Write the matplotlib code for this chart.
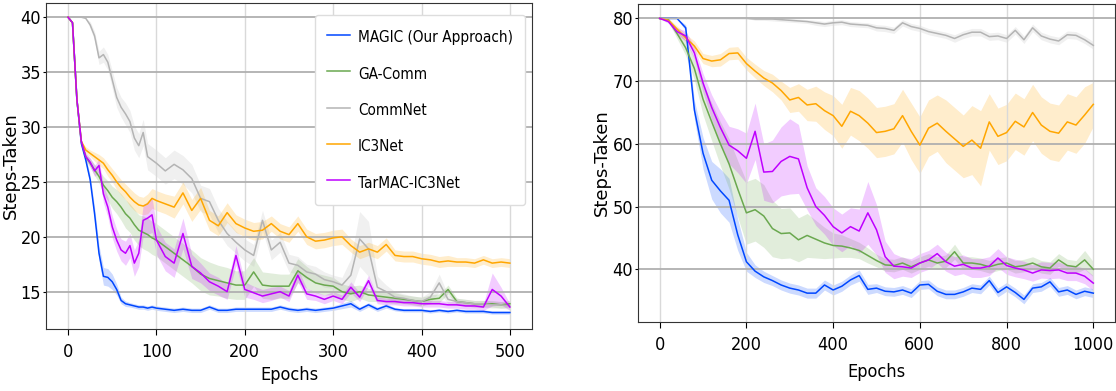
import numpy as np
import matplotlib
matplotlib.use("Agg")
import matplotlib.pyplot as plt
from matplotlib import font_manager

# ---- left panel: 500 epochs ----
epochs_a = [0, 5, 10, 15, 20, 25, 30, 35, 40, 45, 50, 55, 60, 65, 70, 75, 80, 85, 90, 95,
            100, 110, 120, 130, 140, 150, 160, 170, 180, 190, 200, 210, 220, 230, 240,
            250, 260, 270, 280, 290, 300, 310, 320, 330, 340, 350, 360, 370, 380, 390,
            400, 410, 420, 430, 440, 450, 460, 470, 480, 490, 500]

magic_a = [40, 39.5, 32.5, 28.5, 27.0, 25.2, 22.1, 18.5, 16.4, 16.3, 15.9, 15.2, 14.2, 13.9,
           13.8, 13.7, 13.6, 13.6, 13.5, 13.6, 13.5, 13.4, 13.3, 13.4, 13.3, 13.3, 13.6, 13.3,
           13.3, 13.4, 13.4, 13.4, 13.4, 13.4, 13.6, 13.4, 13.3, 13.4, 13.3, 13.4, 13.5, 13.7,
           13.9, 13.4, 13.8, 13.4, 13.7, 13.4, 13.3, 13.3, 13.3, 13.2, 13.3, 13.2, 13.3, 13.2,
           13.2, 13.2, 13.1, 13.1, 13.1]
gacomm_a = [40, 39.5, 32.5, 28.7, 27.3, 26.7, 26.1, 25.5, 24.7, 24.2, 23.6, 23.2, 22.7, 22.1,
            21.7, 21.1, 20.6, 20.4, 20.2, 19.9, 19.7, 19.1, 18.5, 17.9, 17.3, 16.6, 16.2, 16.0,
            15.8, 15.6, 15.6, 16.8, 15.6, 15.5, 15.5, 15.5, 16.9, 16.3, 15.8, 15.6, 15.5, 15.0,
            14.8, 15.0, 14.7, 14.6, 14.5, 14.4, 14.3, 14.2, 14.1, 14.3, 14.4, 15.2, 14.1, 14.0,
            13.9, 13.9, 13.9, 13.8, 13.9]
commnet_a = [40, 40, 40, 40, 39.9, 39.3, 38.3, 36.3, 36.6, 35.9, 34.3, 32.7, 31.8, 31.2,
             30.5, 29.0, 28.3, 29.5, 27.3, 27.0, 26.7, 26.0, 26.6, 26.1, 25.3, 23.5, 23.2, 21.5,
             20.3, 19.5, 18.8, 18.3, 21.5, 18.8, 19.5, 17.6, 17.4, 16.8, 16.6, 16.1, 15.9, 15.6,
             16.5, 19.8, 18.9, 15.4, 15.0, 14.5, 14.4, 14.2, 14.1, 14.5, 15.8, 14.3, 14.1, 14.0,
             13.9, 13.9, 13.8, 13.8, 13.7]
ic3net_a = [40, 39.5, 32.5, 28.7, 27.9, 27.6, 27.3, 27.0, 26.7, 26.1, 25.6, 25.0, 24.5, 24.1,
            23.6, 23.2, 22.9, 22.8, 23.0, 23.5, 23.3, 23.0, 22.7, 24.0, 22.4, 23.5, 21.5, 21.0,
            22.2, 21.2, 20.8, 20.5, 20.6, 21.2, 20.5, 20.2, 21.2, 20.0, 19.6, 19.7, 19.9, 20.0,
            19.2, 18.6, 18.9, 18.6, 19.3, 18.3, 18.2, 18.2, 18.0, 17.9, 17.7, 17.8, 17.7, 17.7,
            17.6, 17.9, 17.6, 17.7, 17.6]
tarmac_a = [40, 39.5, 32.5, 28.7, 27.3, 26.8, 26.0, 26.5, 23.9, 22.7, 20.9, 19.7, 18.8, 18.5,
            19.2, 17.6, 18.5, 21.5, 21.7, 22.0, 19.7, 18.2, 17.6, 20.3, 17.3, 16.7, 15.9, 15.5,
            15.0, 18.3, 15.2, 14.9, 14.6, 14.8, 15.0, 14.6, 16.5, 14.8, 14.6, 14.3, 14.6, 14.3,
            15.4, 14.5, 16.0, 14.2, 14.1, 14.1, 14.0, 14.0, 13.9, 13.9, 13.9, 13.8, 13.8, 13.7,
            13.7, 13.6, 15.2, 14.6, 13.6]

# band half widths, left panel
magic_a_sd = [0, 0, 0, 0, 0.3, 0.4, 0.6, 0.7, 0.8, 0.8, 0.7, 0.5, 0.3, 0.25, 0.2, 0.2, 0.2,
              0.2, 0.2, 0.2, 0.2, 0.2, 0.2, 0.2, 0.2, 0.2, 0.2, 0.2, 0.2, 0.2, 0.2, 0.2, 0.2,
              0.2, 0.2, 0.2, 0.2, 0.2, 0.2, 0.2, 0.2, 0.25, 0.3, 0.2, 0.2, 0.2, 0.2, 0.15, 0.15,
              0.15, 0.15, 0.15, 0.15, 0.15, 0.15, 0.15, 0.15, 0.15, 0.15, 0.15, 0.15]
gacomm_a_sd = [0, 0, 0, 0, 0.3, 0.4, 0.5, 0.6, 0.8, 0.9, 1.0, 1.1, 1.2, 1.3, 1.3, 1.4, 1.4,
               1.5, 1.5, 1.5, 1.5, 1.5, 1.5, 1.5, 1.5, 1.5, 1.5, 1.4, 1.4, 1.3, 1.3, 1.3, 1.2,
               1.2, 1.1, 1.1, 1.1, 1.0, 0.9, 0.9, 0.8, 0.7, 0.7, 0.6, 0.6, 0.5, 0.5, 0.5, 0.4,
               0.4, 0.4, 0.4, 0.4, 0.4, 0.3, 0.3, 0.3, 0.3, 0.3, 0.3, 0.3]
commnet_a_sd = [0, 0, 0, 0, 0, 0.3, 0.4, 0.6, 0.7, 0.7, 0.8, 0.9, 0.9, 1.0, 1.0, 1.1, 1.1,
                1.2, 1.2, 1.2, 1.2, 1.2, 1.3, 1.3, 1.3, 1.2, 1.2, 1.1, 1.1, 1.0, 1.0, 1.0, 0.9,
                0.9, 0.9, 0.8, 0.8, 0.7, 0.7, 0.7, 0.6, 0.7, 1.5, 2.5, 2.5, 1.0, 0.6, 0.5, 0.4,
                0.4, 0.4, 0.5, 0.8, 0.4, 0.3, 0.3, 0.3, 0.3, 0.3, 0.3, 0.3]
ic3net_a_sd = [0, 0, 0, 0, 0.3, 0.3, 0.4, 0.5, 0.5, 0.6, 0.6, 0.7, 0.7, 0.7, 0.8, 0.8, 0.8,
               0.8, 0.9, 0.9, 0.9, 0.9, 1.0, 1.0, 1.0, 1.0, 0.9, 0.9, 0.9, 0.8, 0.8, 0.8, 0.8,
               0.7, 0.7, 0.7, 0.7, 0.7, 0.7, 0.7, 0.7, 0.7, 0.6, 0.6, 0.6, 0.6, 0.6, 0.5, 0.5,
               0.5, 0.5, 0.5, 0.5, 0.5, 0.4, 0.4, 0.4, 0.4, 0.4, 0.4, 0.4]
tarmac_a_sd = [0, 0, 0, 0, 0.3, 0.4, 0.5, 0.6, 0.8, 0.9, 1.0, 1.0, 1.0, 1.1, 1.1, 1.2, 1.2,
               1.4, 1.5, 1.6, 1.3, 1.3, 1.3, 1.4, 1.1, 0.9, 0.8, 0.8, 0.7, 0.9, 0.7, 0.6, 0.6,
               0.6, 0.5, 0.5, 0.6, 0.5, 0.4, 0.4, 0.4, 0.4, 0.5, 0.4, 0.5, 0.3, 0.3, 0.3, 0.3,
               0.3, 0.3, 0.3, 0.3, 0.3, 0.3, 0.3, 0.3, 0.3, 1.5, 0.8, 0.3]

# ---- right panel: 1000 epochs ----
epochs_b = list(range(0, 1001, 20))

magic_b = [80, 80, 80, 78.5, 65.4, 58.5, 54.2, 52.5, 51.0, 45.5, 41.2, 39.7, 38.8, 38.2,
           37.5, 37.0, 36.7, 36.2, 36.2, 37.5, 36.7, 37.3, 38.3, 39.0, 36.8, 37.0, 36.5, 36.4,
           36.7, 36.2, 37.5, 37.6, 36.5, 36.0, 36.0, 36.4, 37.0, 36.8, 38.2, 36.3, 37.2, 36.3,
           35.2, 37.0, 37.2, 38.0, 36.4, 36.7, 36.0, 36.5, 36.2]
gacomm_b = [80, 79.8, 77.6, 75.3, 72.0, 67.1, 63.5, 60.0, 56.8, 52.8, 49.0, 49.5, 48.5, 46.5,
            45.7, 45.8, 44.7, 45.4, 44.8, 44.2, 43.8, 43.7, 43.4, 43.0, 42.2, 41.4, 40.7, 40.6,
            41.0, 40.4, 41.0, 41.5, 41.0, 41.3, 42.8, 41.0, 41.0, 40.8, 40.4, 40.8, 41.0, 40.4,
            40.6, 41.0, 40.4, 40.2, 41.5, 40.6, 40.4, 41.5, 40.0]
commnet_b = [80, 80, 80, 80, 80, 80, 80, 80, 80, 80, 80, 79.9, 79.9, 79.9, 79.8, 79.7, 79.6,
             79.5, 79.3, 79.1, 79.3, 79.4, 79.1, 79.0, 78.9, 78.5, 78.4, 78.1, 79.3, 78.7, 78.4,
             77.9, 77.6, 77.3, 76.8, 77.4, 77.8, 77.8, 77.1, 77.2, 76.8, 78.1, 76.6, 78.5, 77.2,
             76.7, 76.4, 77.4, 77.3, 76.6, 75.7]
ic3net_b = [80, 79.7, 78.3, 76.9, 75.6, 73.6, 73.2, 73.4, 74.4, 74.5, 72.8, 71.6, 70.5, 69.7,
            68.5, 67.0, 67.4, 66.2, 66.4, 65.3, 64.5, 62.8, 65.2, 64.5, 63.3, 61.8, 62.0, 62.4,
            64.5, 62.0, 59.8, 62.5, 63.3, 62.0, 60.8, 59.6, 60.6, 59.3, 63.5, 61.2, 61.8, 63.6,
            62.7, 65.0, 63.0, 62.0, 61.7, 63.5, 63.0, 64.6, 66.3]
tarmac_b = [80, 79.5, 77.9, 77.2, 74.5, 69.7, 65.8, 62.6, 59.8, 58.9, 57.7, 62.0, 55.5, 55.6,
            57.2, 58.0, 57.6, 53.0, 50.0, 48.6, 46.8, 45.8, 46.8, 46.1, 49.0, 46.3, 42.0, 40.5,
            40.4, 40.2, 41.0, 41.5, 42.5, 41.2, 40.5, 40.8, 40.2, 40.2, 40.5, 41.8, 40.6, 40.2,
            39.9, 39.4, 39.9, 39.8, 39.9, 39.4, 39.4, 38.9, 37.8]

magic_b_sd = [0, 0, 0, 0.5, 1.5, 2.5, 3.0, 3.5, 3.5, 2.5, 1.5, 1.0, 0.9, 0.8, 0.8, 0.8, 0.8,
              0.8, 0.8, 0.8, 0.8, 0.8, 0.8, 0.9, 0.8, 0.7, 0.7, 0.7, 0.7, 0.7, 0.7, 0.7, 0.7,
              0.7, 0.7, 0.7, 0.7, 0.7, 0.7, 0.7, 0.7, 0.7, 0.7, 0.7, 0.7, 0.7, 0.7, 0.7, 0.7,
              0.7, 0.7]
gacomm_b_sd = [0, 0.3, 0.8, 1.2, 1.8, 2.5, 3.0, 3.5, 4.0, 4.5, 5.0, 5.0, 5.0, 4.5, 4.0, 4.0,
               3.5, 3.5, 3.0, 2.5, 2.0, 1.8, 1.5, 1.3, 1.2, 1.0, 1.0, 1.0, 1.0, 1.0, 1.0, 1.0,
               1.0, 1.0, 1.2, 1.0, 1.0, 1.0, 1.0, 1.0, 1.0, 1.0, 1.0, 1.0, 1.0, 1.0, 1.0, 1.0,
               1.0, 1.5, 1.2]
commnet_b_sd = [0, 0, 0, 0, 0, 0, 0, 0, 0, 0, 0, 0.2, 0.2, 0.3, 0.3, 0.3, 0.3, 0.3, 0.4, 0.4,
                0.4, 0.4, 0.4, 0.4, 0.4, 0.5, 0.5, 0.5, 0.5, 0.5, 0.5, 0.5, 0.5, 0.5, 0.6, 0.6,
                0.6, 0.6, 0.6, 0.6, 0.6, 0.6, 0.6, 0.6, 0.6, 0.6, 0.6, 0.6, 0.6, 0.6, 0.6]
ic3net_b_sd = [0, 0.3, 0.5, 0.6, 0.8, 0.8, 0.9, 1.0, 1.0, 1.0, 1.0, 1.1, 1.2, 1.4, 1.5, 2.0,
               2.2, 2.5, 2.8, 3.0, 3.2, 3.5, 3.8, 4.0, 4.0, 4.0, 4.0, 4.0, 4.2, 4.5, 4.5, 4.5,
               4.5, 5.0, 5.0, 5.0, 5.5, 6.0, 4.5, 4.5, 4.5, 4.5, 4.5, 4.5, 4.5, 4.5, 4.5, 4.5,
               4.5, 4.5, 3.5]
tarmac_b_sd = [0, 0.3, 0.6, 0.8, 1.0, 1.5, 2.0, 2.5, 3.0, 3.5, 4.0, 4.5, 4.5, 5.0, 5.5, 6.0,
               5.5, 3.5, 3.0, 3.0, 3.0, 3.0, 3.0, 3.5, 5.0, 4.0, 2.5, 2.0, 1.5, 1.5, 1.5, 1.5,
               1.5, 1.5, 1.5, 1.5, 1.5, 1.5, 1.5, 1.5, 1.4, 1.4, 1.4, 1.3, 1.3, 1.3, 1.3, 1.2,
               1.2, 1.2, 1.2]

labels = ["MAGIC (Our Approach)", "GA-Comm", "CommNet", "IC3Net", "TarMAC-IC3Net"]
colors = ["#0047ff", "#6aa84f", "#b4b4b4", "#ffa600", "#bf00ff"]


# look for a narrow face (the reference text is horizontally squeezed)
def find_narrow():
    narrow_stretch = ("condensed", "semi-condensed", "extra-condensed", "ultra-condensed")
    found = []
    for f in font_manager.fontManager.ttflist:
        if f.style != "normal" or f.weight not in (400, "normal", "regular"):
            continue
        if f.stretch in narrow_stretch or "Narrow" in f.name or "Condensed" in f.name:
            found.append(f)
    found.sort(key=lambda f: (0 if "DejaVu" in f.name else 1 if "Liberation" in f.name else 2))
    return found[0].fname if found else None


narrow_path = find_narrow()
if narrow_path:
    def nfont(size):
        return font_manager.FontProperties(fname=narrow_path, size=size)
    tick_size, legend_size = 13, 11
else:
    def nfont(size):
        return font_manager.FontProperties(family="DejaVu Sans", size=size)
    tick_size, legend_size = 11, 10


def draw(ax, epochs, series, bands, xticks, yticks, xlim, ylim):
    x = np.array(epochs)
    for y, sd, c, lab in zip(series, bands, colors, labels):
        y = np.array(y)
        sd = np.array(sd)
        ax.fill_between(x, y - sd, y + sd, color=c, alpha=0.2, linewidth=0)
        ax.plot(x, y, color=c, linewidth=1.1, label=lab)
    ax.set_xlim(*xlim)
    ax.set_ylim(*ylim)
    ax.set_xticks(xticks)
    ax.set_yticks(yticks)
    ax.yaxis.grid(True, color="#b0b0b0", linewidth=1.3)
    ax.xaxis.grid(True, color="#d9d9d9", linewidth=1.0)
    ax.tick_params(axis="x", length=4, pad=6)
    ax.tick_params(axis="y", length=2.5, pad=1)
    for t in ax.get_xticklabels() + ax.get_yticklabels():
        t.set_fontproperties(nfont(tick_size))
    ax.set_xlabel("Epochs", fontproperties=nfont(tick_size))
    ax.set_ylabel("Steps-Taken", fontfamily="DejaVu Sans", fontsize=13)
    for s in ax.spines.values():
        s.set_color("#333333")


fig = plt.figure(figsize=(11.16, 3.91), dpi=100)
ax1 = fig.add_axes([0.0412, 0.1586, 0.4355, 0.8338])
ax2 = fig.add_axes([0.5717, 0.1765, 0.4274, 0.8133])

draw(ax1, epochs_a, [magic_a, gacomm_a, commnet_a, ic3net_a, tarmac_a],
     [magic_a_sd, gacomm_a_sd, commnet_a_sd, ic3net_a_sd, tarmac_a_sd],
     range(0, 501, 100), range(15, 41, 5), (-25, 525), (11.6, 41.3))
draw(ax2, epochs_b, [magic_b, gacomm_b, commnet_b, ic3net_b, tarmac_b],
     [magic_b_sd, gacomm_b_sd, commnet_b_sd, ic3net_b_sd, tarmac_b_sd],
     range(0, 1001, 200), range(40, 81, 10), (-50, 1050), (31.6, 82.3))

ax1.yaxis.set_label_coords(-0.054, 0.5)
ax2.yaxis.set_label_coords(-0.056, 0.5)
ax1.xaxis.set_label_coords(0.5, -0.115)
ax2.xaxis.set_label_coords(0.5, -0.128)

ax1.legend(loc="upper right", bbox_to_anchor=(0.9856, 0.963), borderaxespad=0,
           prop=nfont(legend_size), labelspacing=1.1, handlelength=1.5,
           handleheight=1.6, handletextpad=0.5, borderpad=0.8, framealpha=1.0,
           edgecolor="#dddddd")

fig.savefig("out.png", dpi=100)
